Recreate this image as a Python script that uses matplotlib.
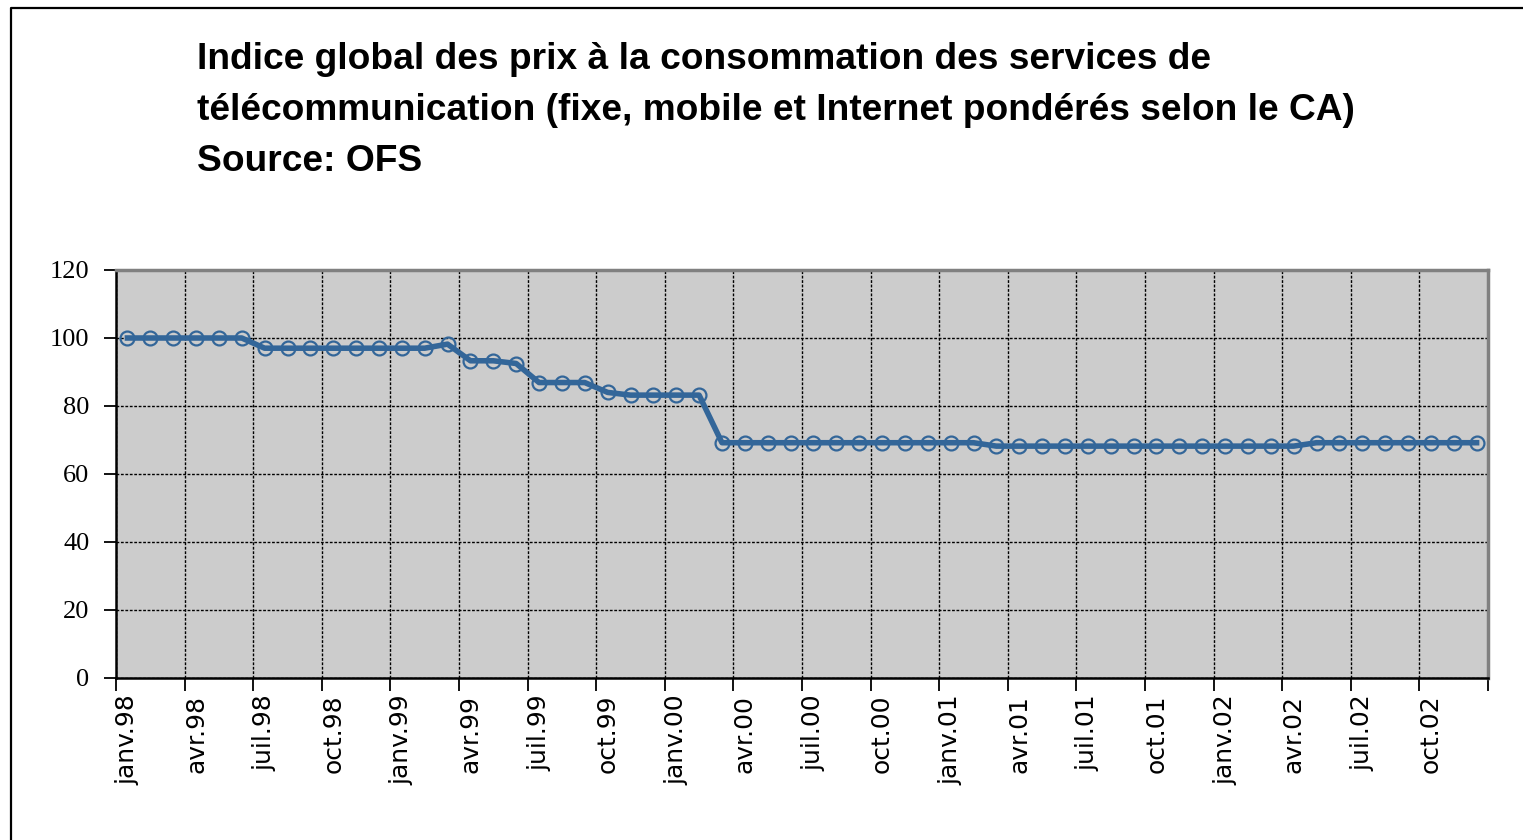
import numpy as np
import matplotlib
matplotlib.use("Agg")
import matplotlib.pyplot as plt
from matplotlib.lines import Line2D

# monthly index, janv.98 .. déc.02
values = ([100.0] * 6 + [97.0] * 8 + [98.2] + [93.3] * 2 + [92.5] + [86.9] * 3
          + [84.0] + [83.2] * 4 + [69.2] * 12 + [68.2] * 14 + [69.2] * 8)
tick_labels = []
for yr in ["98", "99", "00", "01", "02"]:
    for m in ["janv.", "avr.", "juil.", "oct."]:
        tick_labels.append(m + yr)
title_lines = [
    "Indice global des prix à la consommation des services de",
    "télécommunication (fixe, mobile et Internet pondérés selon le CA)",
    "Source: OFS",
]

W, H = 1523, 840
fig = plt.figure(figsize=(W / 100, H / 100), dpi=100)
fig.patch.set_facecolor("white")

# outer frame (continues past right and bottom edge)
fig.add_artist(Line2D([11 / W, 11 / W, 1.0], [0.0, 1 - 8 / H, 1 - 8 / H],
                      transform=fig.transFigure, color="black", lw=1.6))

for i, t in enumerate(title_lines):
    fig.text(197 / W, 1 - (69 + 51 * i) / H, t, fontsize=26.7, fontweight="bold",
             family="Liberation Sans", va="baseline", ha="left")

ax = fig.add_axes([116 / W, 1 - 678 / H, (1488 - 116) / W, (678 - 270) / H])
ax.set_facecolor("#cccccc")

x = np.arange(len(values))
ax.plot(x, values, color="#336699", lw=4, marker="o", ms=10,
        mfc="none", mec="#336699", mew=1.6, zorder=3)

ax.set_xlim(-0.5, len(values) - 0.5)
ax.set_ylim(0, 120)
ax.set_yticks(np.arange(0, 121, 20))

ax.set_xticks(np.arange(-0.5, len(values), 3))
ax.set_xticklabels([])
ax.set_xticks(np.arange(0, len(values), 3), minor=True)
ax.set_xticklabels(tick_labels, minor=True, rotation=90, fontsize=18,
                   family="DejaVu Sans", va="top")
ax.tick_params(axis="x", which="minor", length=0, pad=12)
ax.tick_params(axis="x", which="major", length=9, width=1.3, direction="out")
ax.tick_params(axis="y", length=9, width=1.3, direction="out", pad=10)
for lab in ax.get_yticklabels():
    lab.set_fontfamily("Liberation Serif")
    lab.set_fontsize(19)

ax.set_axisbelow(True)
ax.grid(True, which="major", color="black", lw=1.0, ls=(0, (2, 1.2)))

ax.spines["left"].set_color("black")
ax.spines["bottom"].set_color("black")
ax.spines["left"].set_linewidth(1.8)
ax.spines["bottom"].set_linewidth(1.8)
ax.spines["top"].set_color("#808080")
ax.spines["right"].set_color("#808080")
ax.spines["top"].set_linewidth(2.5)
ax.spines["right"].set_linewidth(2.5)

fig.savefig("out.png", dpi=100)
